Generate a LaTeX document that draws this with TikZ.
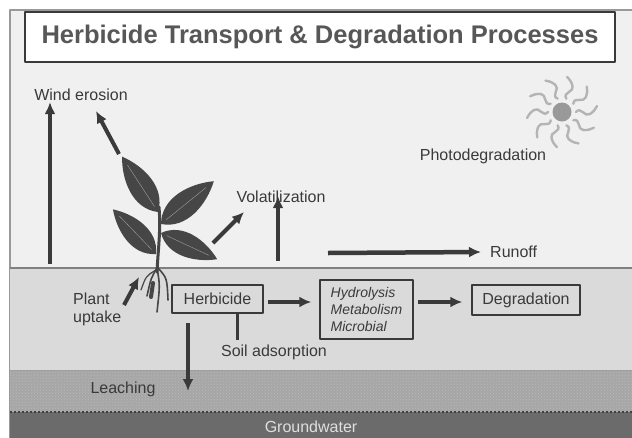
\documentclass[tikz,border=0pt]{standalone}
\usepackage{fontspec}
\setmainfont{Liberation Sans}
\usetikzlibrary{arrows.meta}
\usetikzlibrary{patterns}

\definecolor{skygray}{HTML}{F0F0F0}
\definecolor{soilgray}{HTML}{DADADA}
\definecolor{leachgray}{HTML}{A6A6A6}
\definecolor{watergray}{HTML}{6B6B6B}
\definecolor{inkgray}{HTML}{3A3A3A}
\definecolor{titlegray}{HTML}{575757}
\definecolor{leafgray}{HTML}{464646}
\definecolor{sungray}{HTML}{B4B4B4}

\begin{document}
\begin{tikzpicture}
   [x=1pt,y=-1pt,line join=round,
    flow/.style={draw=inkgray,line width=4.5pt,-{Latex[length=12pt,width=11pt]}},
    lbl/.style={text=inkgray,font=\fontsize{16}{18}\selectfont,inner sep=1pt},
    procbox/.style={draw=inkgray,line width=1.4pt,fill=soilgray,text=inkgray,
                    font=\fontsize{16}{18}\selectfont,inner sep=0pt},
    leaf/.style={fill=leafgray},
    ray/.style={draw=sungray,line width=2.4pt,line cap=round}]

\useasboundingbox (0,0) rectangle (632,437);
\fill[white] (0,0) rectangle (632,437);

%layers: sky, soil, leaching zone, groundwater
\fill[skygray] (10,10) rectangle (640,268);
\draw[gray!80,line width=1.5pt] (10,440) -- (10,10) -- (640,10);
\fill[soilgray] (10,268) rectangle (640,370);
\draw[gray,line width=2pt] (10,268) -- (640,268);
\fill[leachgray] (10,370) rectangle (640,412);
\fill[pattern=crosshatch dots,pattern color=gray!55] (10,370) rectangle (640,412);
\draw[gray!75,line width=1pt] (10,370) -- (640,370);
\fill[watergray] (10,412) rectangle (640,440);
\draw[dashed,black!75,line width=1.5pt,dash pattern=on 2pt off 2pt] (10,412) -- (640,412);

%title
\node (title) [draw=inkgray,line width=1.5pt,fill=white,minimum width=590pt,minimum height=50pt,
   text=titlegray,font=\fontsize{25.5}{28}\selectfont\bfseries] at (320,37)
   {Herbicide Transport \& Degradation Processes};

%labels above ground
\node (wind) [lbl] at (81,95) {Wind erosion};
\node (volat) [lbl] at (281,197) {Volatilization};
\node (photo) [lbl] at (483,156) {Photodegradation};
\node (runoff) [lbl,anchor=west] at (489,252) {Runoff};

%labels in the soil
\node (uptake) [lbl,align=left,anchor=west] at (72,309) {Plant\\uptake};
\node (adsorb) [lbl] at (274,352) {Soil adsorption};
\node (leach) [lbl] at (123,389) {Leaching};
\node (ground) [text=gray!25,font=\fontsize{16}{18}\selectfont] at (311,427) {Groundwater};

%process boxes
\node (herb) [procbox,minimum width=91pt,minimum height=28pt] at (217.5,299) {Herbicide};
\node (hydro) [procbox,minimum width=93pt,minimum height=59pt,align=left,
   font=\fontsize{14}{17}\selectfont\itshape] at (366.5,309.5) {Hydrolysis\\Metabolism\\Microbial};
\node (degr) [procbox,minimum width=108pt,minimum height=30pt] at (526,300) {Degradation};

%sun
\fill[sungray!85!black] (562,112) circle (9.5);
\foreach \a in {0,36,...,324}
  \draw[ray,shift={(562,112)},rotate=\a] (14,0) .. controls (19,-6) and (23,6) .. (28,2) .. controls (32,-1) .. (35,-6);

%plant: stem, leaves and roots
\draw[leafgray,line width=3pt,line cap=round] (157,272) .. controls (158,250) and (161,230) .. (159,207);
\foreach \bx/\by/\ang/\len in {158/212/123/66, 161/224/39/68, 156/254/134/62, 161/233/-25/62}
 {
  \fill[leaf,shift={(\bx,\by)},rotate=\ang] (0,0) .. controls ({0.25*\len},{0.3*\len}) and ({0.7*\len},{0.2*\len}) .. (\len,0)
       .. controls ({0.7*\len},{-0.2*\len}) and ({0.25*\len},{-0.3*\len}) .. (0,0);
  \draw[gray!75,thin,shift={(\bx,\by)},rotate=\ang] ({0.1*\len},0) -- ({0.85*\len},0);
 }
\draw[leafgray,line width=1.6pt,line cap=round] (157,268) .. controls (151,278) .. (147,296);
\draw[leafgray,line width=4pt,line cap=round] (153,283) -- (151,297);
\draw[leafgray,line width=1.6pt,line cap=round] (157,268) .. controls (160,285) .. (157,312);
\draw[leafgray,line width=1.6pt,line cap=round] (158,268) .. controls (167,278) .. (168,300);
\draw[leafgray,line width=1.2pt,line cap=round] (156,270) .. controls (146,276) .. (141,290);

%arrows
\coordinate (windfoot) at (50,264);
\draw[flow] (windfoot) -- (windfoot |- wind.south);
\coordinate (gustA) at (119,154);
\coordinate (gustB) at (96,111);
\draw[flow,line width=4pt] (gustA) -- (gustB);
\coordinate (volA) at (213,243);
\coordinate (volB) at (244,212);
\draw[flow,line width=4pt] (volA) -- (volB);
\coordinate (volfoot) at (278,261);
\draw[flow,line width=4pt] (volfoot) -- ([yshift=8pt]volfoot |- volat.south);
\coordinate (runA) at (328,253);
\draw[flow] (runA) -- ([xshift=-8pt]runoff.west);
\coordinate (upA) at (124,305);
\coordinate (upB) at (139,277);
\draw[flow,line width=4pt] (upA) -- (upB);
\draw[flow,line width=4pt,shorten <=4pt,shorten >=8pt] (herb.east |- 0,302) -- (hydro.west |- 0,302);
\draw[flow,line width=4pt,shorten <=4pt,shorten >=9pt] (hydro.east |- 0,302) -- (degr.west |- 0,302);
\coordinate (adsfoot) at (237,340);
\draw[inkgray,line width=3pt] (herb.south -| adsfoot) -- (adsfoot);
\coordinate (leachtop) at (188,323);
\coordinate (leachfoot) at (188,391);
\draw[flow,line width=4pt] (leachtop) -- (leachfoot);

\end{tikzpicture}
\end{document}
